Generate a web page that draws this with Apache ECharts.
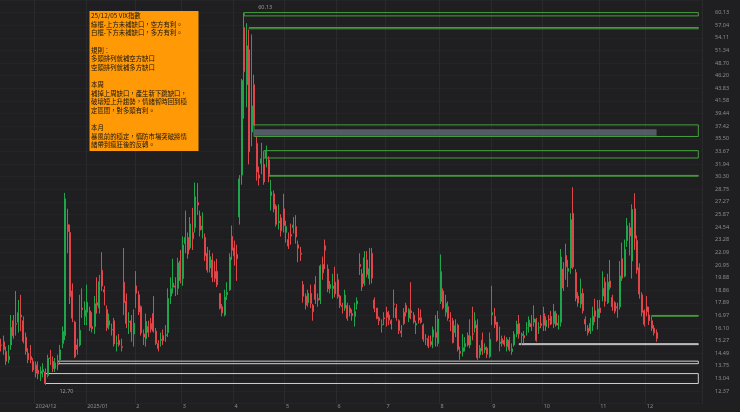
<!DOCTYPE html>
<html>
<head>
<meta charset="utf-8">
<script src="https://cdn.jsdelivr.net/npm/echarts@6/dist/echarts.min.js"></script>
<style>
  html, body { margin: 0; padding: 0; background: #1f1f21; }
  #chart { width: 740px; height: 412px; }
</style>
</head>
<body>
<div id="chart"></div>
<script>
// trading days per month
const months = ['2024-11', '2024-12', '2025-01', '2025-02', '2025-03', '2025-04', '2025-05',
  '2025-06', '2025-07', '2025-08', '2025-09', '2025-10', '2025-11', '2025-12'];
const tradingDays = [
  [11, 12, 13, 14, 15, 18, 19, 20, 21, 22, 25, 26, 27, 29],
  [2, 3, 4, 5, 6, 9, 10, 11, 12, 13, 16, 17, 18, 19, 20, 23, 24, 26, 27, 30, 31],
  [2, 3, 6, 7, 8, 10, 13, 14, 15, 16, 17, 21, 22, 23, 24, 27, 28, 29, 30, 31],
  [3, 4, 5, 6, 7, 10, 11, 12, 13, 14, 18, 19, 20, 21, 24, 25, 26, 27, 28],
  [3, 4, 5, 6, 7, 10, 11, 12, 13, 14, 17, 18, 19, 20, 21, 24, 25, 26, 27, 28, 31],
  [1, 2, 3, 4, 7, 8, 9, 10, 11, 14, 15, 16, 17, 21, 22, 23, 24, 25, 28, 29, 30],
  [1, 2, 5, 6, 7, 8, 9, 12, 13, 14, 15, 16, 19, 20, 21, 22, 23, 27, 28, 29, 30],
  [2, 3, 4, 5, 6, 9, 10, 11, 12, 13, 16, 17, 18, 20, 23, 24, 25, 26, 27, 30],
  [1, 2, 3, 7, 8, 9, 10, 11, 14, 15, 16, 17, 18, 21, 22, 23, 24, 25, 28, 29, 30, 31],
  [1, 4, 5, 6, 7, 8, 11, 12, 13, 14, 15, 18, 19, 20, 21, 22, 25, 26, 27, 28, 29],
  [2, 3, 4, 5, 8, 9, 10, 11, 12, 15, 16, 17, 18, 19, 22, 23, 24, 25, 26, 29, 30],
  [1, 2, 3, 6, 7, 8, 9, 10, 13, 14, 15, 16, 17, 20, 21, 22, 23, 24, 27, 28, 29, 30, 31],
  [3, 4, 5, 6, 7, 10, 11, 12, 13, 14, 17, 18, 19, 20, 21, 24, 25, 26, 28],
  [1, 2, 3, 4, 5]
];

// VIX daily candles: [open, close, low, high]
const nov2024 = [[15.0,14.97,14.6,15.4],[15.2,14.71,14.4,15.6],[14.6,14.02,13.8,14.9],[14.1,14.31,13.9,15.0],
  [15.0,16.14,14.7,17.0],[16.6,15.58,15.4,17.0],[16.4,16.35,15.6,18.79],[16.5,17.16,15.8,18.1],
  [17.0,16.87,15.9,18.5],[16.6,15.24,15.1,16.9],[15.5,14.60,14.4,15.8],[14.5,14.10,13.9,14.8],
  [14.3,14.10,13.9,15.0],[14.0,13.51,13.4,14.2]];
const dec2024 = [[13.8,13.34,13.1,14.0],[13.5,13.30,13.0,14.0],[13.3,13.45,12.9,13.7],[13.4,13.54,13.1,13.9],
  [13.4,12.77,12.70,13.6],[13.2,14.19,13.1,14.4],[14.2,14.18,13.8,14.7],[14.0,13.58,13.4,14.3],
  [13.6,13.92,13.4,14.2],[13.9,13.81,13.5,14.4],[14.1,14.69,13.9,15.0],[15.1,15.87,14.8,16.2],
  [15.6,27.62,15.3,28.32],[24.8,24.09,22.0,26.5],[24.0,18.36,17.8,24.8],[18.8,16.78,16.5,19.4],
  [16.5,14.27,14.2,16.6],[15.0,14.73,14.4,15.4],[15.0,15.95,14.9,18.5],[17.5,17.40,16.8,19.0],
  [16.9,17.35,16.3,18.0]];
const jan2025 = [[17.2,17.93,16.3,19.3],[17.3,16.13,15.9,17.6],[16.2,16.04,15.8,17.2],[16.2,17.82,15.7,18.4],
  [17.9,17.70,17.1,19.9],[17.5,19.54,17.1,20.1],[20.5,19.19,18.8,22.1],[18.9,18.71,17.7,19.2],
  [17.4,16.12,15.9,17.7],[16.3,16.60,16.0,17.1],[16.0,15.97,15.6,16.4],[16.6,15.06,14.9,16.8],
  [15.1,15.10,14.6,15.6],[15.3,15.02,14.9,15.7],[14.9,14.85,14.6,15.4],[19.5,17.90,17.0,22.5],
  [18.0,16.41,16.1,18.6],[16.5,16.56,15.7,17.2],[16.6,15.84,15.2,17.0],[15.7,16.43,14.9,17.4]];
const feb2025 = [[19.2,18.62,17.5,20.42],[18.5,17.21,17.0,18.8],[17.6,15.77,15.6,17.7],[15.7,15.50,15.0,16.0],
  [15.4,16.54,14.9,17.1],[16.2,15.81,15.5,16.6],[16.4,16.02,15.8,16.8],[17.1,15.89,15.8,18.4],
  [15.9,15.10,15.0,16.1],[15.1,14.77,14.6,15.3],[15.3,15.35,14.9,15.8],[15.6,15.27,15.0,16.0],
  [15.6,15.66,15.2,16.3],[15.8,18.21,15.5,19.0],[18.4,18.98,17.8,19.9],[19.1,19.43,18.6,21.5],
  [19.2,19.10,18.4,19.9],[19.0,21.13,18.5,21.6],[21.3,19.63,19.4,22.3]];
const mar2025 = [[19.8,22.78,19.2,23.6],[22.9,23.51,22.0,26.3],[23.5,21.93,21.5,24.0],[22.5,24.87,22.3,25.6],
  [24.0,23.37,22.3,26.6],[24.5,27.86,24.0,29.57],[27.2,26.92,25.8,29.5],[25.7,24.23,23.6,26.3],
  [24.3,24.66,23.4,26.1],[23.5,21.77,21.3,23.9],[22.0,20.51,20.3,22.6],[20.7,21.70,20.3,22.3],
  [21.4,19.90,19.5,22.0],[20.4,19.80,19.5,21.3],[20.4,19.28,19.1,21.5],[18.6,17.48,17.4,18.6],
  [17.6,17.15,16.9,17.8],[17.0,18.33,16.9,18.9],[18.5,18.69,18.1,19.5],[18.9,21.65,18.8,22.0],
  [23.6,22.28,21.4,24.7]];
const apr2025 = [[22.5,21.77,20.9,23.2],[21.9,21.51,19.6,22.8],[25.6,30.02,24.8,30.5],[30.5,45.31,29.3,45.6],
  [56.5,46.98,38.6,60.13],[44.5,52.33,40.5,57.52],[51.5,33.62,31.9,56.0],[36.5,40.72,34.4,54.9],
  [44.5,37.56,37.5,46.4],[34.8,30.89,29.8,35.8],[30.5,30.12,29.2,31.6],[32.0,32.64,30.6,34.9],
  [31.9,29.65,29.3,33.7],[32.8,33.82,31.5,34.5],[32.5,30.57,29.6,33.0],[28.0,28.45,26.3,29.9],
  [28.2,26.47,26.1,28.6],[26.8,24.84,24.6,27.0],[25.0,25.15,24.3,27.0],[25.5,24.17,23.6,25.9],
  [26.5,24.70,24.0,28.2]];
const may2025 = [[24.0,24.60,23.0,25.2],[23.3,22.68,22.4,24.0],[23.8,23.64,22.8,24.9],[24.5,24.76,23.9,25.6],
  [24.6,23.55,22.9,25.8],[22.8,22.48,21.2,23.2],[22.0,21.90,21.3,22.6],[19.3,18.39,17.9,19.6],
  [18.4,17.72,17.4,18.6],[17.9,18.62,17.6,18.9],[18.6,17.83,17.5,19.3],[17.7,17.24,16.6,17.8],
  [19.3,18.14,17.8,20.0],[18.2,18.09,17.6,18.6],[18.1,20.87,17.8,21.0],[21.0,20.28,19.7,21.7],
  [22.7,22.29,20.6,23.3],[20.6,18.96,18.7,21.0],[19.0,19.31,18.6,19.6],[19.0,19.18,18.2,20.2],
  [19.5,18.57,18.3,20.8]];
const jun2025 = [[19.7,18.36,18.2,20.2],[18.4,17.69,17.5,18.5],[17.7,17.61,17.1,17.9],[17.5,18.48,17.3,18.9],
  [17.7,16.77,16.6,17.9],[17.5,17.16,16.9,17.7],[17.1,16.95,16.6,17.4],[16.9,17.26,16.2,17.9],
  [17.8,18.02,17.4,18.3],[21.0,20.82,20.1,22.0],[20.2,19.11,18.8,20.6],[19.4,21.60,19.2,22.2],
  [21.4,20.14,19.9,22.2],[19.8,20.62,19.3,22.5],[22.0,19.83,19.4,22.5],[18.1,17.48,17.2,18.3],
  [17.5,16.76,16.7,17.5],[16.8,16.59,16.3,16.9],[16.3,16.32,15.8,16.7],[16.8,16.73,16.3,17.2]];
const jul2025 = [[17.2,16.83,16.2,17.6],[17.0,16.64,16.3,17.3],[16.6,16.38,16.0,16.7],[17.8,17.79,16.8,18.9],
  [17.5,16.81,16.6,17.8],[16.6,15.94,15.7,16.7],[15.9,15.78,15.5,16.3],[17.2,16.40,16.3,17.5],
  [17.7,17.20,16.9,17.9],[16.8,17.38,16.5,17.5],[17.3,17.16,16.7,19.5],[17.0,16.52,16.4,17.2],
  [16.3,16.41,15.7,16.6],[16.8,16.65,16.4,17.5],[16.8,16.50,16.4,17.4],[16.3,15.37,15.2,16.4],
  [15.4,15.39,15.0,15.7],[15.4,14.93,14.8,15.6],[15.2,15.03,14.9,15.6],[15.5,15.98,14.8,16.2],
  [15.8,15.48,14.9,17.0],[15.1,16.72,14.9,17.3]];
const aug2025 = [[18.0,20.38,17.8,21.9],[18.8,17.52,17.4,19.0],[17.2,17.85,16.9,18.5],[17.6,16.77,16.6,18.0],
  [16.6,16.57,15.9,17.2],[16.6,15.15,15.1,16.8],[15.8,16.25,15.5,16.7],[16.3,14.73,14.6,16.4],
  [14.6,14.49,14.1,14.9],[14.6,14.83,14.3,15.7],[14.9,15.09,14.6,15.5],[15.6,15.00,14.9,15.8],
  [15.0,15.57,14.8,16.7],[15.7,15.69,15.3,17.6],[16.1,16.60,15.8,17.2],[16.3,14.22,14.1,16.7],
  [14.4,14.79,14.2,15.0],[15.3,14.62,14.4,15.8],[14.7,14.85,14.5,15.1],[14.8,14.43,14.2,14.9],
  [14.3,15.36,14.2,15.8]];
const sep2025 = [[17.0,17.17,16.3,19.2],[16.9,16.35,16.1,17.5],[16.5,15.30,15.2,16.5],[15.1,15.18,14.6,16.2],
  [15.4,15.11,14.9,15.6],[15.3,15.04,14.9,15.6],[14.9,15.35,14.6,15.5],[15.3,14.71,14.6,15.5],
  [14.6,14.76,14.4,15.1],[15.0,15.69,14.9,15.9],[15.7,16.36,15.5,16.6],[16.4,15.72,15.4,17.0],
  [15.6,15.70,15.0,15.8],[15.6,15.45,15.1,15.9],[16.1,16.10,15.6,16.5],[16.2,16.64,15.8,16.9],
  [16.4,16.18,15.9,17.0],[16.5,16.74,16.2,17.7],[16.7,15.29,15.2,16.8],[16.1,16.12,15.7,16.5],
  [16.4,16.28,16.1,17.0]];
const oct2025 = [[17.1,16.29,15.9,17.6],[16.2,16.63,15.9,16.9],[16.7,16.65,16.1,17.0],[16.9,16.37,16.3,17.3],
  [16.4,17.24,16.1,17.8],[17.1,16.30,16.2,17.3],[16.3,16.43,16.0,17.0],[16.5,21.66,16.2,22.4],
  [20.6,19.03,18.8,21.2],[21.8,20.81,19.7,22.9],[20.4,20.64,19.1,21.4],[20.7,25.31,20.2,26.0],
  [26.0,20.78,20.6,28.99],[20.3,18.23,18.0,20.6],[18.4,17.87,17.6,18.7],[17.8,18.60,17.5,19.8],
  [18.6,17.30,17.1,19.0],[16.7,16.37,15.9,16.9],[16.1,15.79,15.6,16.3],[15.9,16.42,15.7,16.8],
  [16.3,16.92,15.9,17.6],[17.3,16.91,16.5,18.2],[16.8,17.44,16.0,18.1]];
const nov2025 = [[17.5,17.17,16.8,18.1],[18.4,19.00,18.0,20.4],[19.5,18.01,17.6,19.9],[17.9,19.50,17.8,20.2],
  [19.6,19.08,18.9,21.4],[18.3,17.60,17.3,18.5],[17.9,17.28,17.1,18.0],[17.6,17.51,16.8,17.9],
  [17.6,20.00,17.4,21.3],[21.5,19.83,19.6,23.0],[20.0,22.38,19.9,23.3],[23.2,24.69,22.6,25.5],
  [24.5,23.66,21.8,25.0],[21.3,26.42,19.8,27.0],[26.5,23.43,22.3,28.27],[23.2,20.52,20.2,23.7],
  [20.7,18.56,18.2,21.1],[18.5,17.19,16.9,18.7],[17.3,16.35,16.2,17.4]];
const dec2025 = [[17.6,17.24,16.9,18.4],[17.0,16.59,16.3,17.6],[16.6,16.08,15.9,16.9],[16.1,15.78,15.6,16.3],
  [15.8,15.41,15.2,16.0]];

// unfilled gaps: [first date, top, bottom, kind]
const gaps = [
  ['2025-04-07', 60.13, 59.31, 'up'],
  ['2025-04-09', 56.50, 56.20, 'up'],
  ['2025-04-11', 37.62, 35.84, 'up'],
  ['2025-04-17', 33.78, 32.76, 'up'],
  ['2025-04-22', 30.46, 30.36, 'up'],
  ['2025-12-03', 16.97, 16.91, 'up'],
  ['2025-09-17', 15.08, 15.02, 'down'],
  ['2024-12-13', 14.02, 13.87, 'down'],
  ['2024-12-06', 13.31, 12.77, 'down']
];
// part of the 37.6 gap already traded through
const partFill = ['2025-04-11', '2025-12-05', 36.94, 35.95];

const note = [
  '25/12/05 VIX指數',
  '綠框-上方未補缺口，空方有利。',
  '白框-下方未補缺口，多方有利。',
  '',
  '規則：',
  '多頭排列就補空方缺口',
  '空頭排列就補多方缺口',
  '',
  '本周',
  '補掉上周缺口，產生新下跳缺口，',
  '破壞短上升趨勢，情緒暫時回到穩',
  '定區間，對多頭有利。',
  '',
  '本月',
  '暴風前的穩定，慎防市場突破將情',
  '緒帶到瘋狂後的反轉。'
];

// axis: log steps between 12.37 and 60.13
const axisLow = 12.37;
const axisHigh = 60.13;
const ratio = Math.pow(axisHigh / axisLow, 1 / 30);
const toStep = v => Math.log(v / axisLow) / Math.log(ratio);
const fromStep = s => axisLow * Math.pow(ratio, s);

const candles = [].concat(nov2024, dec2024, jan2025, feb2025, mar2025, apr2025, may2025,
  jun2025, jul2025, aug2025, sep2025, oct2025, nov2025, dec2025);

let dates = [];
months.forEach((m, k) => {
  tradingDays[k].forEach(d => dates.push(m + '-' + (d < 10 ? '0' + d : d)));
});
const padCount = 18;
let categories = dates.slice();
for (let i = 0; i < padCount; i++) categories.push('pad' + i);
const lastCat = 'pad16';

function monthStart(idx) {
  if (idx <= 0 || idx >= dates.length) return false;
  return dates[idx].slice(0, 7) !== dates[idx - 1].slice(0, 7);
}

const seriesData = candles.map(c => c.map(toStep));

const green = '#46a03c';
const white = '#cfcfcf';
let areas = gaps.map(g => [
  {
    coord: [g[0], toStep(g[1])],
    itemStyle: { color: 'rgba(0,0,0,0)', borderColor: g[3] === 'up' ? green : white, borderWidth: 1 }
  },
  { coord: [lastCat, toStep(g[2])] }
]);
areas.push([
  { coord: [partFill[0], toStep(partFill[2])], itemStyle: { color: 'rgba(88,98,110,0.9)', borderWidth: 0 } },
  { coord: [partFill[1], toStep(partFill[3])] }
]);

let chart = echarts.init(document.getElementById('chart'));
chart.setOption({
  animation: false,
  backgroundColor: '#1f1f21',
  grid: { left: 0, right: 38, top: -3.73, bottom: 8.27 },
  xAxis: {
    type: 'category',
    data: categories,
    boundaryGap: true,
    axisLine: { show: false },
    axisTick: { show: false },
    axisLabel: {
      interval: (i) => monthStart(i),
      align: 'left',
      margin: 0,
      color: '#8c8c8c',
      fontSize: 5.5,
      fontFamily: 'Noto Sans',
      formatter: (val, i) => {
        const y = val.slice(0, 4), m = val.slice(5, 7);
        if (i === 14 || m === '01') return y + '/' + m;
        return String(parseInt(m, 10));
      }
    },
    splitLine: {
      show: true,
      interval: (i) => monthStart(i),
      lineStyle: { color: '#2a2a2c', width: 1 }
    }
  },
  yAxis: {
    type: 'value',
    position: 'right',
    min: -1,
    max: 31,
    interval: 1,
    axisLine: { show: false },
    axisTick: { show: false },
    axisLabel: {
      margin: 13,
      color: '#8c8c8c',
      fontSize: 5.5,
      fontFamily: 'Noto Sans',
      formatter: (v) => {
        const s = Math.round(v);
        if (s < 0 || s > 30) return '';
        return fromStep(s).toFixed(2);
      }
    },
    splitLine: { lineStyle: { color: '#242426', width: 1 } }
  },
  series: [{
    type: 'candlestick',
    data: seriesData,
    barWidth: 1.5,
    itemStyle: {
      color: '#1fa64d',
      color0: '#df4649',
      borderColor: '#1fa64d',
      borderColor0: '#df4649',
      borderWidth: 1
    },
    markPoint: {
      symbol: 'circle',
      symbolSize: 0,
      silent: true,
      label: {
        show: true,
        color: '#9a9a9a',
        fontSize: 5.5,
        fontFamily: 'Noto Sans',
        formatter: p => fromStep(p.value).toFixed(2)
      },
      data: [
        { type: 'max', valueDim: 'highest', label: { offset: [21, -5] } },
        { type: 'min', valueDim: 'lowest', label: { offset: [21, 7] } }
      ]
    },
    markArea: {
      silent: true,
      label: { show: false },
      data: areas
    }
  }],
  graphic: [
    {
      type: 'rect',
      z: 100,
      left: 89.5,
      top: 11,
      shape: { width: 109, height: 140 },
      style: { fill: '#ff9a06' }
    },
    {
      type: 'text',
      z: 101,
      left: 91,
      top: 11.4,
      style: {
        text: note.join('\n'),
        fill: '#141414',
        fontSize: 6.4,
        lineHeight: 8.62,
        fontFamily: '"Noto Sans CJK TC", "Noto Sans"'
      }
    }
  ]
});
</script>
</body>
</html>
